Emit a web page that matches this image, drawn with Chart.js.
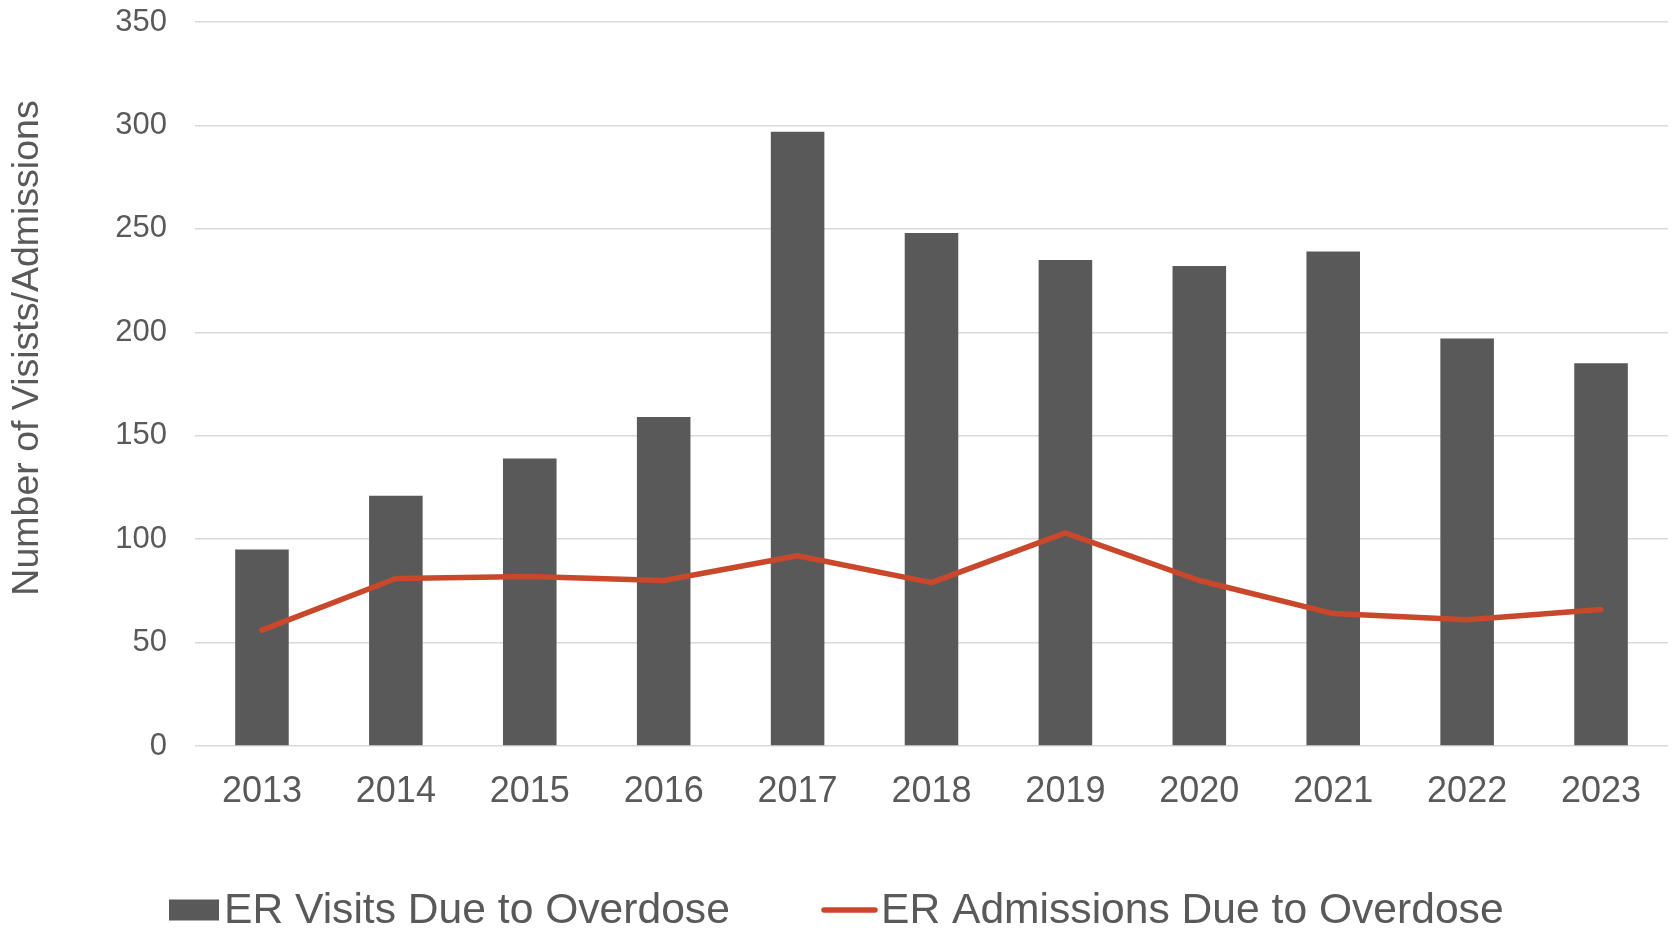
<!DOCTYPE html>
<html><head><meta charset="utf-8">
<script src="https://cdn.jsdelivr.net/npm/chart.js@4.4.1/dist/chart.umd.min.js"></script>
<style>html,body{margin:0;padding:0;background:#fff;overflow:hidden}#wrap{width:1673px;height:928px;position:relative}</style>
</head><body><div id="wrap"><canvas id="c" width="1673" height="928"></canvas></div>
<script>
const years = ['2013','2014','2015','2016','2017','2018','2019','2020','2021','2022','2023'];
const erVisits = [95,121,139,159,297,248,235,232,239,197,185];
const erAdmissions = [56,81,82,80,92,79,103,80,64,61,66];
const yMin = 0, yMax = 350, yStep = 50;
const yAxisTitle = 'Number of Visists/Admissions';
const seriesNames = ['ER Visits Due to Overdose', 'ER Admissions Due to Overdose'];

const FONT = '"Liberation Sans", Arial, sans-serif';
const TEXT = '#595959';
const BAR = '#595959';
const LINE = '#c9472a';

const customDecor = {
  id: 'customDecor',
  afterDraw(chart) {
    const ctx = chart.ctx;
    ctx.save();
    ctx.fillStyle = TEXT;
    ctx.font = '37.5px ' + FONT;
    ctx.textAlign = 'center';
    ctx.textBaseline = 'middle';
    ctx.translate(28, 348);
    ctx.rotate(-Math.PI / 2);
    ctx.fillText(yAxisTitle, 0, 0);
    ctx.restore();

    ctx.save();
    const ds = chart.data.datasets;
    const barDs = ds.find(d => d.type === 'bar');
    const lineDs = ds.find(d => d.type === 'line');
    const ly = 910;
    ctx.font = '42.6px ' + FONT;
    ctx.textBaseline = 'middle';
    ctx.textAlign = 'left';
    ctx.fillStyle = barDs.backgroundColor;
    ctx.fillRect(169, ly - 10.5, 50, 21);
    ctx.fillStyle = TEXT;
    ctx.fillText(barDs.label, 224, ly + 1);
    ctx.strokeStyle = lineDs.borderColor;
    ctx.lineWidth = 5.5;
    ctx.lineCap = 'round';
    ctx.beginPath();
    ctx.moveTo(824, ly);
    ctx.lineTo(875, ly);
    ctx.stroke();
    ctx.fillStyle = TEXT;
    ctx.fillText(lineDs.label, 881, ly + 1);
    ctx.restore();
  }
};

new Chart(document.getElementById('c'), {
  data: {
    labels: years,
    datasets: [
      {
        type: 'line', label: seriesNames[1], data: erAdmissions,
        borderColor: LINE, backgroundColor: LINE, borderWidth: 5.5,
        pointRadius: 0, tension: 0, borderCapStyle: 'round', borderJoinStyle: 'round', order: 0
      },
      {
        type: 'bar', label: seriesNames[0], data: erVisits,
        backgroundColor: BAR, borderWidth: 0,
        barPercentage: 0.4, categoryPercentage: 1.0, order: 1
      }
    ]
  },
  options: {
    responsive: false, animation: false, devicePixelRatio: 1,
    layout: { padding: { top: 22, right: 5, bottom: 82, left: 0 } },
    plugins: { legend: { display: false }, tooltip: { enabled: false } },
    scales: {
      x: {
        grid: { display: false, drawTicks: false },
        border: { display: false },
        ticks: { color: TEXT, font: { family: FONT, size: 36 }, padding: 24, maxRotation: 0 },
        afterFit(s) { s.height = 100; s.paddingLeft = 0; s.paddingRight = 0; }
      },
      y: {
        min: yMin, max: yMax,
        ticks: { stepSize: yStep, color: TEXT, font: { family: FONT, size: 31 }, padding: 28 },
        grid: { color: '#d9d9d9', lineWidth: 1.5, drawTicks: false },
        border: { display: false },
        afterFit(s) { s.width = 195; s.paddingTop = 0; s.paddingBottom = 0; }
      }
    }
  },
  plugins: [customDecor]
});
</script></body></html>
